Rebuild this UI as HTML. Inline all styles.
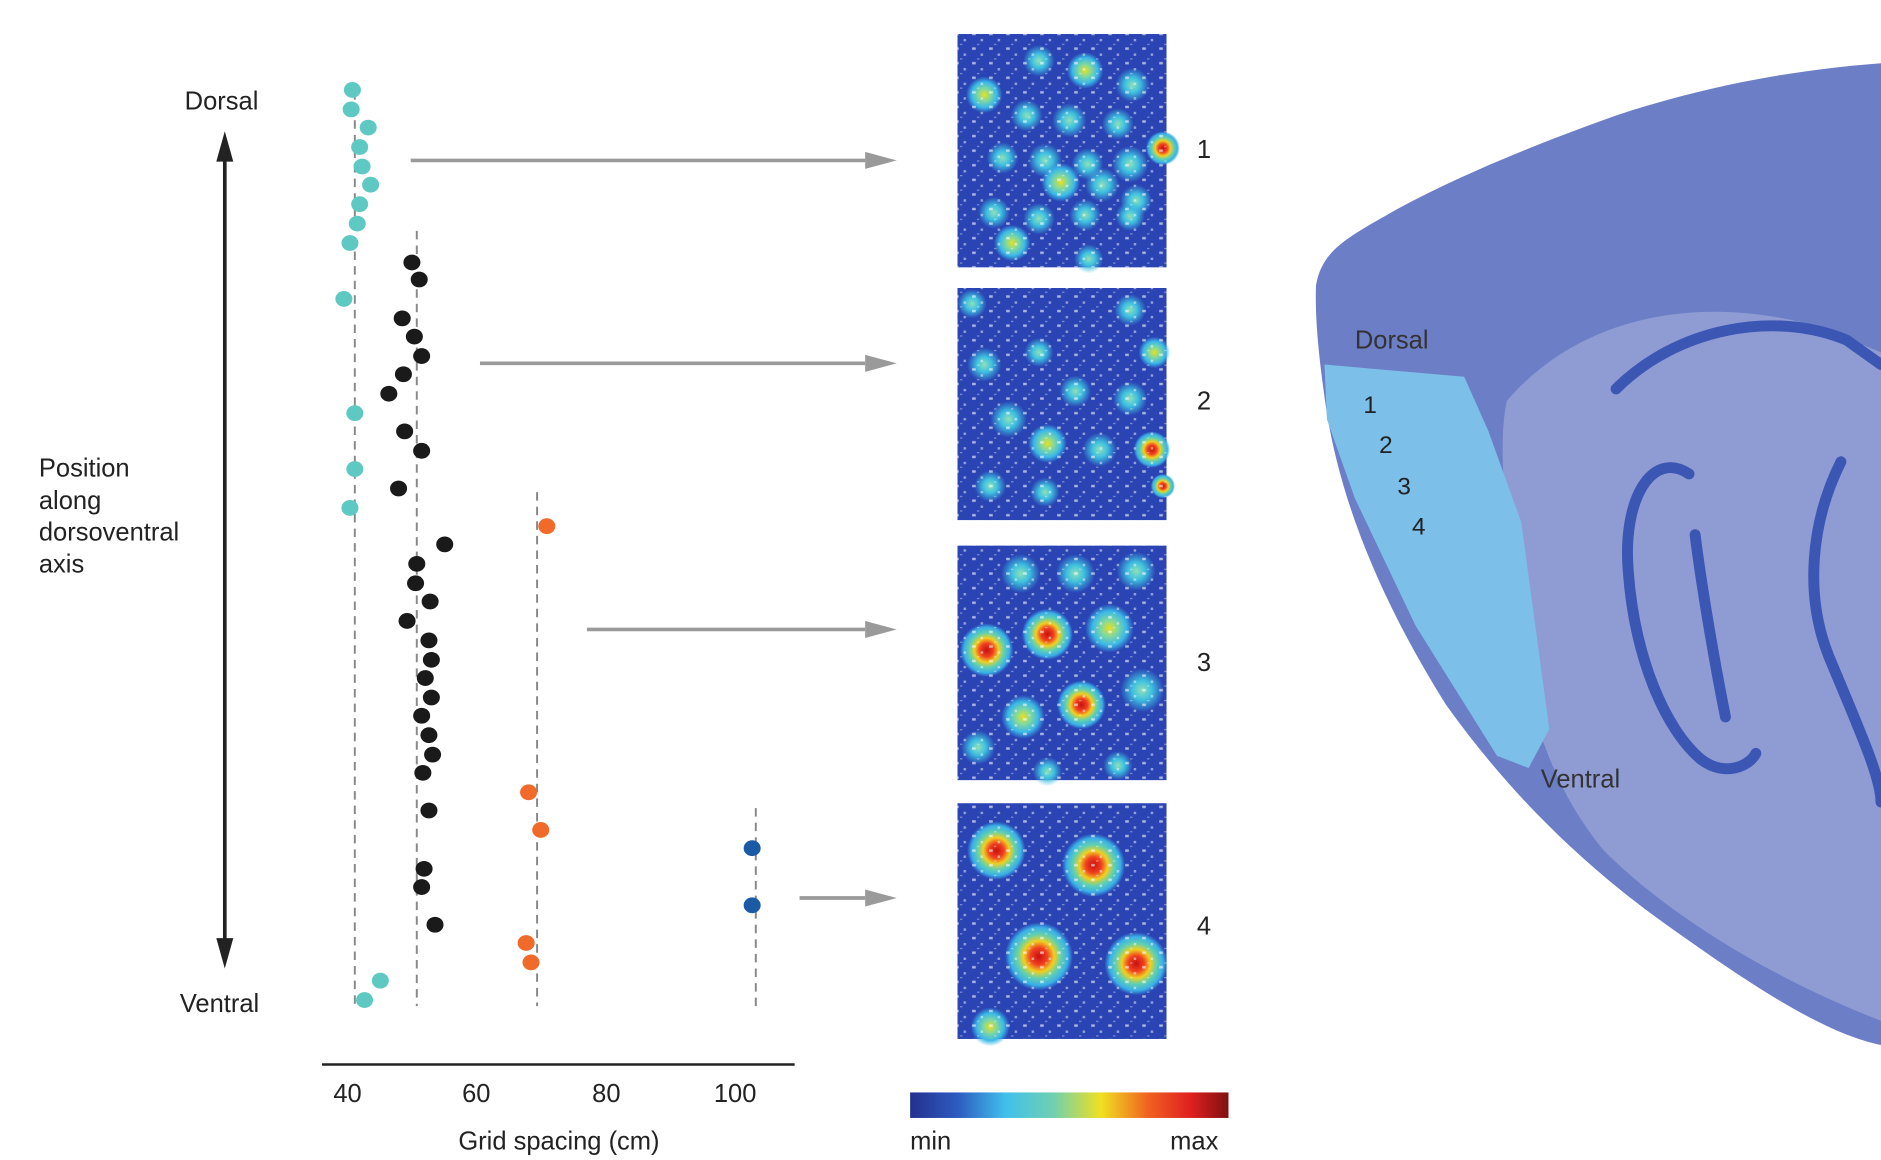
<!DOCTYPE html>
<html><head><meta charset="utf-8"><style>
html,body{margin:0;padding:0;background:#fff;}
svg{display:block}
text{font-family:"Liberation Sans",sans-serif;fill:#222}
</style></head><body>
<svg width="1881" height="1160" viewBox="0 0 1548 954.6" preserveAspectRatio="none" xmlns="http://www.w3.org/2000/svg">
<defs>
<radialGradient id="gc"><stop offset="0" stop-color="#8fe0b8"/><stop offset="0.45" stop-color="#3ec0e0"/><stop offset="1" stop-color="#3ec0e0" stop-opacity="0"/></radialGradient>
<radialGradient id="gy"><stop offset="0" stop-color="#e8e020"/><stop offset="0.35" stop-color="#7fd8a0"/><stop offset="0.7" stop-color="#3ab8e8"/><stop offset="1" stop-color="#3ab8e8" stop-opacity="0"/></radialGradient>
<radialGradient id="gr"><stop offset="0" stop-color="#c81010"/><stop offset="0.25" stop-color="#f04020"/><stop offset="0.45" stop-color="#f0d020"/><stop offset="0.65" stop-color="#60d0b0"/><stop offset="0.85" stop-color="#3ab0e8"/><stop offset="1" stop-color="#3ab0e8" stop-opacity="0"/></radialGradient>
<pattern id="sp" width="14" height="12" patternUnits="userSpaceOnUse">
<rect x="2" y="3" width="3" height="2" fill="#fff" opacity="0.6"/><rect x="9" y="8" width="2" height="2" fill="#fff" opacity="0.5"/><rect x="6" y="0" width="2" height="1" fill="#fff" opacity="0.4"/>
</pattern>
<linearGradient id="cb" x1="0" x2="1"><stop offset="0" stop-color="#233090"/><stop offset="0.15" stop-color="#2d5cc0"/><stop offset="0.3" stop-color="#40c0ec"/><stop offset="0.45" stop-color="#70d0b0"/><stop offset="0.6" stop-color="#f0e020"/><stop offset="0.75" stop-color="#f06020"/><stop offset="0.88" stop-color="#e02020"/><stop offset="1" stop-color="#801010"/></linearGradient>
<marker id="ah" markerWidth="10" markerHeight="8" refX="9" refY="4" orient="auto" markerUnits="userSpaceOnUse"><path d="M0,0 L26,4 L0,8 Z" fill="#9a9a9a"/></marker>
</defs>

<!-- left chart -->
<text x="152" y="90" font-size="21">Dorsal</text>
<text x="148" y="833" font-size="21">Ventral</text>
<text x="32" y="392" font-size="21">Position</text>
<text x="32" y="419" font-size="21">along</text>
<text x="32" y="445" font-size="21">dorsoventral</text>
<text x="32" y="471" font-size="21">axis</text>
<line x1="185" y1="128" x2="185" y2="778" stroke="#222" stroke-width="3"/>
<path d="M185,108 L178,133 L192,133 Z" fill="#222"/>
<path d="M185,797 L178,772 L192,772 Z" fill="#222"/>

<g stroke="#888" stroke-width="1.6" stroke-dasharray="7,5">
<line x1="292" y1="75" x2="292" y2="828"/>
<line x1="343" y1="190" x2="343" y2="828"/>
<line x1="442" y1="405" x2="442" y2="828"/>
<line x1="622" y1="665" x2="622" y2="828"/>
</g>

<line x1="265" y1="876" x2="654" y2="876" stroke="#222" stroke-width="2"/>
<g font-size="21" text-anchor="middle">
<text x="286" y="907">40</text><text x="392" y="907">60</text><text x="499" y="907">80</text><text x="605" y="907">100</text>
<text x="460" y="946">Grid spacing (cm)</text>
</g>

<g fill="#5ec8c2">
<ellipse cx="290" cy="74" rx="7" ry="6.5"/><ellipse cx="289" cy="90" rx="7" ry="6.5"/><ellipse cx="303" cy="105" rx="7" ry="6.5"/><ellipse cx="296" cy="121" rx="7" ry="6.5"/><ellipse cx="298" cy="137" rx="7" ry="6.5"/><ellipse cx="305" cy="152" rx="7" ry="6.5"/><ellipse cx="296" cy="168" rx="7" ry="6.5"/><ellipse cx="294" cy="184" rx="7" ry="6.5"/><ellipse cx="288" cy="200" rx="7" ry="6.5"/><ellipse cx="283" cy="246" rx="7" ry="6.5"/><ellipse cx="292" cy="340" rx="7" ry="6.5"/><ellipse cx="292" cy="386" rx="7" ry="6.5"/><ellipse cx="288" cy="418" rx="7" ry="6.5"/><ellipse cx="313" cy="807" rx="7" ry="6.5"/><ellipse cx="300" cy="823" rx="7" ry="6.5"/>
</g>
<g fill="#1a1a1a">
<ellipse cx="339" cy="216" rx="7" ry="6.5"/><ellipse cx="345" cy="230" rx="7" ry="6.5"/><ellipse cx="331" cy="262" rx="7" ry="6.5"/><ellipse cx="341" cy="277" rx="7" ry="6.5"/><ellipse cx="347" cy="293" rx="7" ry="6.5"/><ellipse cx="332" cy="308" rx="7" ry="6.5"/><ellipse cx="320" cy="324" rx="7" ry="6.5"/><ellipse cx="333" cy="355" rx="7" ry="6.5"/><ellipse cx="347" cy="371" rx="7" ry="6.5"/><ellipse cx="328" cy="402" rx="7" ry="6.5"/><ellipse cx="366" cy="448" rx="7" ry="6.5"/><ellipse cx="343" cy="464" rx="7" ry="6.5"/><ellipse cx="342" cy="480" rx="7" ry="6.5"/><ellipse cx="354" cy="495" rx="7" ry="6.5"/><ellipse cx="335" cy="511" rx="7" ry="6.5"/><ellipse cx="353" cy="527" rx="7" ry="6.5"/><ellipse cx="355" cy="543" rx="7" ry="6.5"/><ellipse cx="350" cy="558" rx="7" ry="6.5"/><ellipse cx="355" cy="574" rx="7" ry="6.5"/><ellipse cx="347" cy="589" rx="7" ry="6.5"/><ellipse cx="353" cy="605" rx="7" ry="6.5"/><ellipse cx="356" cy="621" rx="7" ry="6.5"/><ellipse cx="348" cy="636" rx="7" ry="6.5"/><ellipse cx="353" cy="667" rx="7" ry="6.5"/><ellipse cx="349" cy="715" rx="7" ry="6.5"/><ellipse cx="347" cy="730" rx="7" ry="6.5"/><ellipse cx="358" cy="761" rx="7" ry="6.5"/>
</g>
<g fill="#f06a2a">
<ellipse cx="450" cy="433" rx="7" ry="6.5"/><ellipse cx="435" cy="652" rx="7" ry="6.5"/><ellipse cx="445" cy="683" rx="7" ry="6.5"/><ellipse cx="433" cy="776" rx="7" ry="6.5"/><ellipse cx="437" cy="792" rx="7" ry="6.5"/>
</g>
<g fill="#1b5aa5">
<ellipse cx="619" cy="698" rx="7" ry="6.5"/><ellipse cx="619" cy="745" rx="7" ry="6.5"/>
</g>

<g stroke="#9a9a9a" stroke-width="3">
<line x1="338" y1="132" x2="712" y2="132"/><path d="M712,125 L738,132 L712,139 Z" fill="#9a9a9a" stroke="none"/>
<line x1="395" y1="299" x2="712" y2="299"/><path d="M712,292 L738,299 L712,306 Z" fill="#9a9a9a" stroke="none"/>
<line x1="483" y1="518" x2="712" y2="518"/><path d="M712,511 L738,518 L712,525 Z" fill="#9a9a9a" stroke="none"/>
<line x1="658" y1="739" x2="712" y2="739"/><path d="M712,732 L738,739 L712,746 Z" fill="#9a9a9a" stroke="none"/>
</g>

<!-- heatmaps -->
<g>
<rect x="788" y="28" width="172" height="192" fill="#2a44b4"/>
<rect x="788" y="237" width="172" height="191" fill="#2a44b4"/>
<rect x="788" y="449" width="172" height="193" fill="#2a44b4"/>
<rect x="788" y="661" width="172" height="194" fill="#2a44b4"/>
</g>
<g>
<circle cx="810" cy="78" r="15" fill="url(#gy)"/><circle cx="855" cy="50" r="13" fill="url(#gc)"/><circle cx="893" cy="58" r="15" fill="url(#gy)"/><circle cx="932" cy="70" r="14" fill="url(#gc)"/><circle cx="845" cy="95" r="13" fill="url(#gc)"/><circle cx="880" cy="99" r="14" fill="url(#gc)"/><circle cx="920" cy="102" r="13" fill="url(#gc)"/><circle cx="825" cy="130" r="13" fill="url(#gc)"/><circle cx="860" cy="132" r="14" fill="url(#gc)"/><circle cx="895" cy="135" r="13" fill="url(#gc)"/><circle cx="930" cy="135" r="15" fill="url(#gc)"/><circle cx="957" cy="122" r="14" fill="url(#gr)"/><circle cx="873" cy="150" r="16" fill="url(#gy)"/><circle cx="907" cy="152" r="14" fill="url(#gc)"/><circle cx="935" cy="165" r="13" fill="url(#gc)"/><circle cx="818" cy="175" r="13" fill="url(#gc)"/><circle cx="855" cy="180" r="13" fill="url(#gc)"/><circle cx="893" cy="177" r="13" fill="url(#gc)"/><circle cx="930" cy="178" r="12" fill="url(#gc)"/><circle cx="833" cy="200" r="15" fill="url(#gy)"/><circle cx="896" cy="213" r="12" fill="url(#gc)"/>

<circle cx="800" cy="250" r="12" fill="url(#gc)"/><circle cx="810" cy="300" r="14" fill="url(#gc)"/><circle cx="855" cy="290" r="12" fill="url(#gc)"/><circle cx="885" cy="322" r="13" fill="url(#gc)"/><circle cx="930" cy="255" r="13" fill="url(#gc)"/><circle cx="950" cy="290" r="13" fill="url(#gy)"/><circle cx="830" cy="345" r="15" fill="url(#gc)"/><circle cx="862" cy="365" r="16" fill="url(#gy)"/><circle cx="905" cy="370" r="14" fill="url(#gc)"/><circle cx="930" cy="328" r="14" fill="url(#gc)"/><circle cx="948" cy="370" r="15" fill="url(#gr)"/><circle cx="957" cy="400" r="10" fill="url(#gr)"/><circle cx="815" cy="400" r="13" fill="url(#gc)"/><circle cx="860" cy="405" r="12" fill="url(#gc)"/>

<circle cx="812" cy="535" r="22" fill="url(#gr)"/><circle cx="862" cy="522" r="21" fill="url(#gr)"/><circle cx="913" cy="517" r="20" fill="url(#gy)"/><circle cx="840" cy="472" r="16" fill="url(#gc)"/><circle cx="885" cy="472" r="16" fill="url(#gc)"/><circle cx="935" cy="470" r="16" fill="url(#gc)"/><circle cx="842" cy="590" r="18" fill="url(#gy)"/><circle cx="890" cy="580" r="20" fill="url(#gr)"/><circle cx="940" cy="568" r="18" fill="url(#gc)"/><circle cx="805" cy="615" r="14" fill="url(#gc)"/><circle cx="862" cy="635" r="12" fill="url(#gc)"/><circle cx="920" cy="630" r="12" fill="url(#gc)"/>

<circle cx="820" cy="700" r="24" fill="url(#gr)"/><circle cx="900" cy="712" r="26" fill="url(#gr)"/><circle cx="855" cy="787" r="28" fill="url(#gr)"/><circle cx="935" cy="793" r="26" fill="url(#gr)"/><circle cx="815" cy="845" r="16" fill="url(#gy)"/>
</g>
<g fill="url(#sp)">
<rect x="788" y="28" width="172" height="192"/><rect x="788" y="237" width="172" height="191"/><rect x="788" y="449" width="172" height="193"/><rect x="788" y="661" width="172" height="194"/>
</g>
<g font-size="21"><text x="985" y="130">1</text><text x="985" y="337">2</text><text x="985" y="552">3</text><text x="985" y="769">4</text></g>

<rect x="749" y="899" width="262" height="21" fill="url(#cb)"/>
<text x="749" y="946" font-size="21">min</text><text x="963" y="946" font-size="21">max</text>

<!-- brain -->
<path d="M1083,235 C1088,205 1110,195 1150,172 C1200,145 1260,120 1330,95 C1400,72 1470,58 1548,52 L1548,860 C1500,850 1440,810 1370,760 C1300,710 1240,650 1190,580 C1140,500 1105,420 1092,340 C1086,300 1082,265 1083,235 Z" fill="#6c7ec6"/>
<path d="M1240,330 C1300,260 1400,240 1500,270 L1548,290 L1548,840 C1470,810 1380,760 1320,700 C1270,640 1250,560 1245,480 C1240,420 1232,370 1240,330 Z" fill="#8f9cd4"/>
<path d="M1090,300 L1205,310 L1225,355 L1252,430 L1275,600 L1258,632 L1232,622 L1165,515 L1115,410 L1092,345 Z" fill="#7cbfe8"/>
<g fill="none" stroke="#3c56b4" stroke-width="9" stroke-linecap="round">
<path d="M1330,320 C1380,270 1460,255 1520,280 L1548,300"/>
<path d="M1390,390 C1360,370 1335,410 1340,470 C1345,540 1370,600 1400,625 C1420,640 1440,630 1445,620"/>
<path d="M1395,440 C1400,480 1410,540 1420,590"/>
<path d="M1515,380 C1490,430 1485,490 1505,540 C1530,600 1548,640 1548,660"/>
</g>
<text x="1115" y="287" font-size="21" style="fill:#333">Dorsal</text>
<text x="1268" y="648" font-size="21" style="fill:#333">Ventral</text>
<g font-size="20"><text x="1122" y="340">1</text><text x="1135" y="373">2</text><text x="1150" y="407">3</text><text x="1162" y="440">4</text></g>
</svg>
</body></html>
